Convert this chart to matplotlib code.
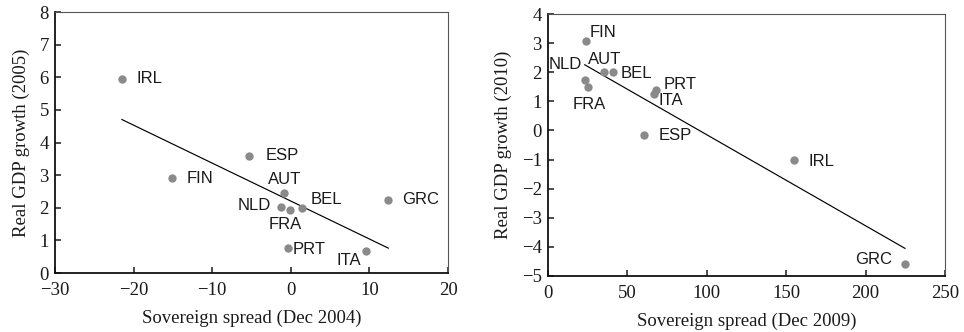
import matplotlib
matplotlib.use("Agg")
from matplotlib import pyplot as plt
import numpy as np

# Panel 1: 2004 spreads vs 2005 growth
countries_2005 = ['IRL', 'ESP', 'FIN', 'AUT', 'NLD', 'FRA', 'BEL', 'GRC', 'PRT', 'ITA']
spread_2004 = [-21.5, -5.3, -15.1, -0.85, -1.3, -0.1, 1.4, 12.4, -0.4, 9.5]
growth_2005 = [5.96, 3.59, 2.90, 2.46, 2.02, 1.93, 2.00, 2.24, 0.76, 0.66]

# Panel 2: 2009 spreads vs 2010 growth
countries_2010 = ['FIN', 'NLD', 'FRA', 'AUT', 'BEL', 'PRT', 'ITA', 'ESP', 'IRL', 'GRC']
spread_2009 = [24.0, 23.1, 25.0, 35.2, 40.7, 68.2, 66.7, 60.6, 154.8, 224.8]
growth_2010 = [3.09, 1.72, 1.48, 2.00, 2.00, 1.40, 1.27, -0.15, -1.03, -4.60]

# label offsets in pixels (dx, dy, ha)
offsets_2005 = {
    'IRL': (15, 0, 'left'), 'ESP': (16, 0, 'left'), 'FIN': (14, 0, 'left'),
    'AUT': (0, 13, 'center'), 'NLD': (-10, 2, 'right'), 'FRA': (-5, -14, 'center'),
    'BEL': (9, 8, 'left'), 'GRC': (14, 0, 'left'), 'PRT': (5, -1, 'left'),
    'ITA': (-4, -9, 'right'),
}
offsets_2010 = {
    'FIN': (3, 8, 'left'), 'NLD': (-3, 16, 'right'), 'FRA': (2, -17, 'center'),
    'AUT': (1, 13, 'center'), 'BEL': (8, -1, 'left'), 'PRT': (7, 5, 'left'),
    'ITA': (5, -7, 'left'), 'ESP': (14, -1, 'left'), 'IRL': (15, -1, 'left'),
    'GRC': (-13, 5, 'right'),
}

SERIF = 'Liberation Serif'
SANS = 'Liberation Sans'
DOT = '#8a8a8a'
TXT = '#1a1a1a'

fig = plt.figure(figsize=(9.64, 3.32), dpi=100)
ax1 = fig.add_axes([0.0571, 0.1777, 0.4077, 0.786])
ax2 = fig.add_axes([0.5685, 0.1687, 0.4118, 0.789])


def draw_panel(ax, x, y, names, offs, xlim, xticks, ylim, yticks, xlabel, ylabel):
    x = np.array(x)
    y = np.array(y)
    ax.scatter(x, y, s=36, color=DOT, zorder=3, linewidths=0)

    # fitted line across the data range
    b, a = np.polyfit(x, y, 1)
    xs = np.array([x.min(), x.max()])
    ax.plot(xs, a + b * xs, color='black', lw=0.85, zorder=2)

    for name, xi, yi in zip(names, x, y):
        dx, dy, ha = offs[name]
        ax.annotate(name, (xi, yi), xytext=(dx, dy), textcoords='offset pixels',
                    ha=ha, va='center', fontsize=12, family=SANS, color=TXT)

    ax.set_xlim(*xlim)
    ax.set_ylim(*ylim)
    ax.set_xticks(xticks)
    ax.set_yticks(yticks)
    ax.set_xticklabels([str(t).replace('-', '\u2212') for t in xticks], family=SERIF, fontsize=13.5)
    ax.set_yticklabels([str(t).replace('-', '\u2212') for t in yticks], family=SERIF, fontsize=13.5)
    ax.tick_params(direction='in', length=4, width=1.1, top=False, right=False, colors=TXT)
    ax.tick_params(axis='x', pad=6.5)
    ax.tick_params(axis='y', pad=4.5)
    ax.set_xlabel(xlabel, family=SERIF, fontsize=13.5, labelpad=8, color=TXT)
    ax.set_ylabel(ylabel, family=SERIF, fontsize=13.5, labelpad=7, color=TXT)

    for side in ['left', 'bottom']:
        ax.spines[side].set_linewidth(1.3)
        ax.spines[side].set_color('#111111')
    for side in ['top', 'right']:
        ax.spines[side].set_linewidth(0.8)
        ax.spines[side].set_color('#555555')


draw_panel(ax1, spread_2004, growth_2005, countries_2005, offsets_2005,
           (-30, 20), [-30, -20, -10, 0, 10, 20], (0, 8), list(range(0, 9)),
           'Sovereign spread (Dec 2004)', 'Real GDP growth (2005)')
draw_panel(ax2, spread_2009, growth_2010, countries_2010, offsets_2010,
           (0, 250), [0, 50, 100, 150, 200, 250], (-5, 4), list(range(-5, 5)),
           'Sovereign spread (Dec 2009)', 'Real GDP growth (2010)')

fig.savefig('out.png', dpi=100)
